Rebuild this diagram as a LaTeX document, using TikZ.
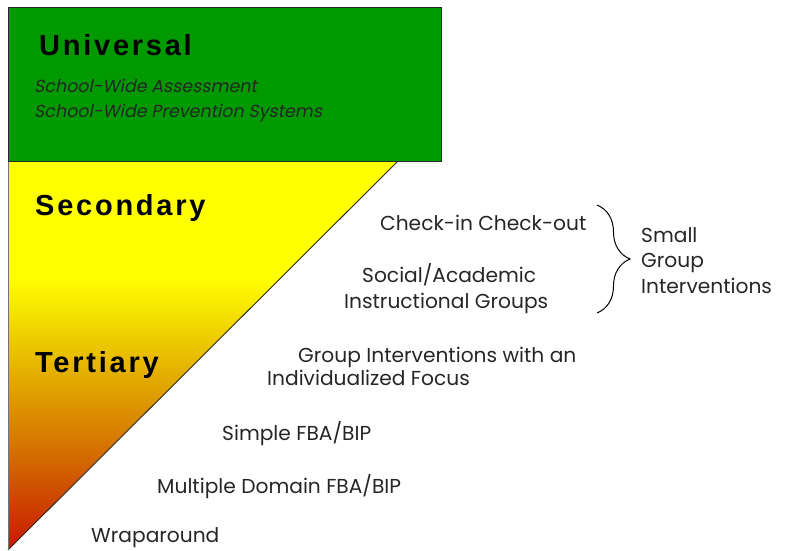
\documentclass[tikz,border=0pt]{standalone}
\usepackage{fontspec}
\setmainfont{Poppins}[AutoFakeSlant=0.2]
\newfontfamily\headfont{Liberation Sans}[LetterSpace=9.5]
\usetikzlibrary{decorations.pathreplacing}

\definecolor{tierGreen}{RGB}{0,153,0}
\definecolor{tierYellow}{RGB}{255,255,0}
\definecolor{tierAmber}{RGB}{226,170,0}
\definecolor{tierOrange}{RGB}{210,100,0}
\definecolor{tierRed}{RGB}{200,25,0}
\definecolor{edgeGray}{RGB}{40,40,40}

% yellow at the top of the triangle, amber in the middle, red at the tip
\pgfdeclareverticalshading{tiershade}{100bp}{%
  color(0bp)=(tierRed); color(25bp)=(tierRed);
  color(36bp)=(tierOrange); color(47bp)=(tierAmber);
  color(60bp)=(tierYellow); color(100bp)=(tierYellow)}

\tikzset{
  tierhead/.style={anchor=base west, inner sep=0pt, font=\headfont\bfseries\fontsize{29}{32}\selectfont},
  subitem/.style={anchor=base west, inner sep=0pt, font=\itshape\fontsize{17.5}{20}\selectfont, text=black!85},
  item/.style={anchor=base west, inner sep=0pt, font=\fontsize{20.2}{23}\selectfont, text=black!85},
  edge/.style={draw=edgeGray, line width=0.9pt},
}

\begin{document}
\begin{tikzpicture}[x=1pt,y=-1pt]
\useasboundingbox (0,0) rectangle (789,550);

% tier shapes
\coordinate (tl) at (8,161);
\coordinate (tr) at (398,161);
\coordinate (tip) at (8,550);
\path[shading=tiershade] (tl) -- (tr) -- (tip) -- cycle;
\draw[edge] (tr) -- (tip);
\draw[draw=black!55, line width=0.9pt] (tl) -- (tip);
\draw[edge, fill=tierGreen] (8,7) rectangle (441,161);

% tier titles
\node[tierhead] (universal) at (39,55) {Universal};
\node[subitem] (assess) at (34,92) {School-Wide Assessment};
\node[subitem] (prevent) at (34,117) {School-Wide Prevention Systems};
\node[tierhead] (secondary) at (35,215) {Secondary};
\node[tierhead] (tertiary) at (35,372) {Tertiary};

% interventions
\node[item] (cico) at (380,230) {Check-in Check-out};
\node[item] (social) at (362,282) {Social/Academic};
\node[item] (instr) at (344,308) {Instructional Groups};
\node[item] (gifocus1) at (298,362) {Group Interventions with an};
\node[item] (gifocus2) at (267,385) {Individualized Focus};
\node[item] (simple) at (222,440) {Simple FBA/BIP};
\node[item] (multi) at (157,493) {Multiple Domain FBA/BIP};
\node[item] (wrap) at (91,542) {Wraparound};

% grouping brace
\coordinate (btop) at (597,205);
\coordinate (bbot) at (597,313);
\draw[line width=1pt, decorate, decoration={brace, amplitude=33pt, aspect=0.5}] (btop) -- (bbot);
\node[item] (small) at (641,242) {Small};
\node[item] (group) at (641,267) {Group};
\node[item] (interv) at (641,293) {Interventions};
\end{tikzpicture}
\end{document}
